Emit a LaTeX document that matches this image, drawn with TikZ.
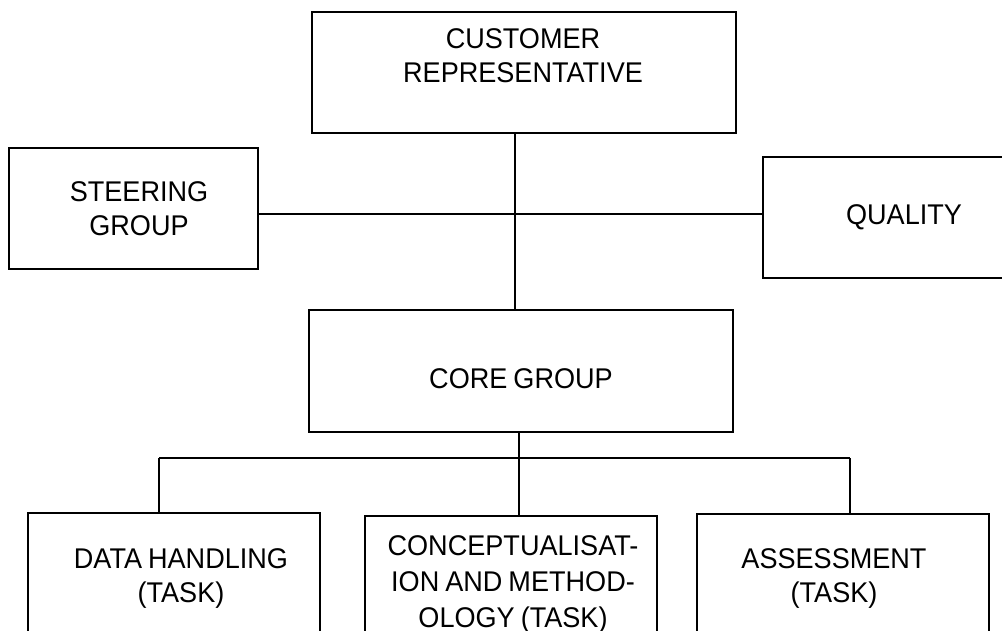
\documentclass[tikz,border=0pt]{standalone}
\usepackage{fontspec}
\setmainfont{Liberation Sans}[FakeStretch=0.95,WordSpace=0.8]
\begin{document}
\begin{tikzpicture}[x=1pt,y=-1pt,
    box/.style={draw,line width=1.8pt,inner sep=0pt,minimum width=292pt},
    txt/.style={anchor=north,inner sep=0pt,align=center,font=\fontsize{28.5}{34}\selectfont},
    link/.style={line width=1.8pt}]
    \clip (0,0) rectangle (1002,630);
    % boxes
    \node[box,minimum width=424pt,minimum height=121pt] (cust)    at (524,72.5)  {};
    \node[box,minimum width=249pt,minimum height=121pt] (steer)   at (133.5,208.5) {};
    \node[box,minimum width=282pt,minimum height=121pt] (qual)    at (904,217.5) {};
    \node[box,minimum width=424pt,minimum height=122pt] (core)    at (521,371)   {};
    \node[box,minimum height=140pt] (data)    at (174,583) {};
    \node[box,minimum height=140pt] (concept) at (511,586) {};
    \node[box,minimum height=140pt] (assess)  at (843,584) {};
    % labels
    \node[txt] (custtxt)    at (523,28)  {CUSTOMER\\REPRESENTATIVE};
    \node[txt] (steertxt)   at (139,181) {STEERING\\GROUP};
    \node[txt] (qualtxt)    at (904,204) {QUALITY};
    \node[txt] (coretxt)    at (521,368) {CORE GROUP};
    \node[txt] (datatxt)    at (181,548) {DATA HANDLING\\(TASK)};
    \node[txt,font=\fontsize{28.5}{36}\selectfont] (concepttxt) at (513,535) {CONCEPTUALISAT-\\ION AND METHOD-\\OLOGY (TASK)};
    \node[txt] (assesstxt)  at (834,548) {ASSESSMENT\\(TASK)};
    % connectors
    \coordinate (hub)  at (515,214);
    \coordinate (busL) at (159,458);
    \coordinate (busM) at (519,458);
    \coordinate (busR) at (850,458);
    \draw[link] (cust.south -| hub) -- (core.north -| hub);
    \draw[link] (steer.east |- hub) -- (qual.west |- hub);
    \draw[link] (core.south -| busM) -- (concept.north -| busM);
    \draw[link] (busL) -- (busR);
    \draw[link] (busL) -- (data.north -| busL);
    \draw[link] (busR) -- (assess.north -| busR);
\end{tikzpicture}
\end{document}
